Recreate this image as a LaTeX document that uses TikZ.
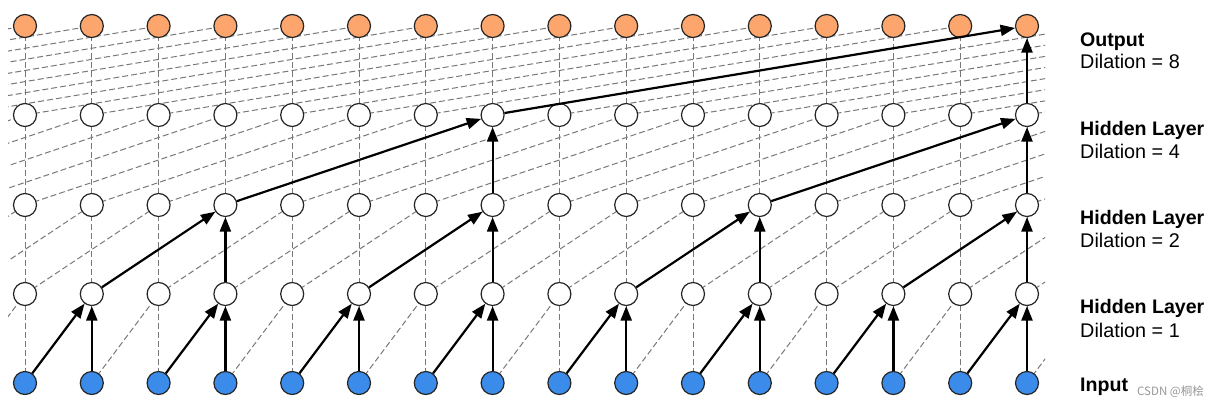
\documentclass[tikz,border=0pt]{standalone}
\usepackage{fontspec}
\setmainfont{Liberation Sans}
\newfontfamily\cjkf{Noto Sans CJK SC}
\usetikzlibrary{arrows.meta}
\definecolor{inblue}{RGB}{59,139,235}
\definecolor{outorange}{RGB}{252,166,110}
\definecolor{dashgray}{RGB}{120,120,120}
\definecolor{wmgray}{RGB}{150,150,150}
\begin{document}
\begin{tikzpicture}[x=1pt,y=-1pt,
  neuron/.style={circle,draw=black!85,line width=1.2pt,minimum size=23pt,inner sep=0pt},
  inp/.style={neuron,fill=inblue},
  hid/.style={neuron,fill=white},
  outp/.style={neuron,fill=outorange},
  gridline/.style={draw=dashgray,line width=1pt,dash pattern=on 6pt off 3pt},
  arr/.style={draw=black,line width=2.2pt,-{Triangle[length=14.5pt,width=11pt]}},
  lab/.style={anchor=base west,inner sep=0pt,font=\fontsize{19.8}{23}\selectfont},
  labb/.style={lab,font=\fontsize{19.6}{23}\selectfont\bfseries}]
\useasboundingbox (0,0) rectangle (1219,405);
% coordinates (k = column + 8)
\foreach \r/\y in {0/383,1/294,2/205,3/115,4/26}{
  \foreach \k in {0,...,31}{
    \coordinate (p\r-\k) at ({25+66.8*(\k-8)},\y);
  }
}
% dashed connections
\begin{scope}
\clip (8,0) rectangle (1045,405);
\foreach \k in {8,...,23}{
  \draw[gridline] (p0-\k) -- (p4-\k);
}
\foreach \r/\d in {0/1,1/2,2/4,3/8}{
  \pgfmathtruncatemacro\ru{\r+1}
  \pgfmathtruncatemacro\kmax{23+\d}
  \foreach \k in {8,...,\kmax}{
    \pgfmathtruncatemacro\kl{\k-\d}
    \draw[gridline] (p\r-\kl) -- (p\ru-\k);
  }
}
\end{scope}
% nodes
\foreach \i in {0,...,15}{
  \pgfmathtruncatemacro\k{\i+8}
  \node[inp]  (n0-\i) at (p0-\k) {};
  \node[hid]  (n1-\i) at (p1-\k) {};
  \node[hid]  (n2-\i) at (p2-\k) {};
  \node[hid]  (n3-\i) at (p3-\k) {};
  \node[outp] (n4-\i) at (p4-\k) {};
}
% solid arrows
\foreach \j in {1,3,...,15}{
  \pgfmathtruncatemacro\a{\j-1}
  \draw[arr] (n0-\a) -- (n1-\j);
  \draw[arr] (n0-\j) -- (n1-\j);
}
\foreach \j in {3,7,11,15}{
  \pgfmathtruncatemacro\a{\j-2}
  \draw[arr] (n1-\a) -- (n2-\j);
  \draw[arr] (n1-\j) -- (n2-\j);
}
\foreach \j in {7,15}{
  \pgfmathtruncatemacro\a{\j-4}
  \draw[arr] (n2-\a) -- (n3-\j);
  \draw[arr] (n2-\j) -- (n3-\j);
}
\draw[arr] (n3-7) -- (n4-15);
\draw[arr] (n3-15) -- (n4-15);
% labels
\node[labb] (l4a) at (1080,46) {Output};
\node[lab]  (l4b) at (1080,68) {Dilation = 8};
\node[labb] (l3a) at (1080,135) {Hidden Layer};
\node[lab]  (l3b) at (1080,158) {Dilation = 4};
\node[labb] (l2a) at (1080,224) {Hidden Layer};
\node[lab]  (l2b) at (1080,247) {Dilation = 2};
\node[labb] (l1a) at (1080,313) {Hidden Layer};
\node[lab]  (l1b) at (1080,337) {Dilation = 1};
\node[labb] (l0a) at (1080,391) {Input};
\node[anchor=base west,inner sep=0pt,text=wmgray,font=\cjkf\fontsize{11.5}{13}\selectfont] (wm) at (1137,395) {CSDN @桐桧};
\end{tikzpicture}
\end{document}
